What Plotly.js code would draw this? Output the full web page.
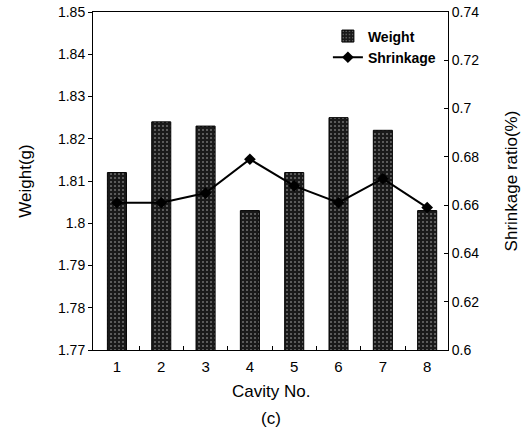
<!DOCTYPE html>
<html><head><meta charset="utf-8">
<script src="https://cdn.plot.ly/plotly-3.0.1.min.js"></script>
<style>body{margin:0;background:#fff}#c{width:531px;height:434px}</style>
</head><body><div id="c"></div>
<script>
var cavities = [1,2,3,4,5,6,7,8];
var weight = [1.812,1.824,1.823,1.803,1.812,1.825,1.822,1.803];
var shrinkage = [0.661,0.661,0.665,0.679,0.668,0.661,0.671,0.659];
var leftTicks = [1.77,1.78,1.79,1.8,1.81,1.82,1.83,1.84,1.85];
var leftTickText = ['1.77','1.78','1.79','1.8','1.81','1.82','1.83','1.84','1.85'];
var rightTicks = [0.6,0.62,0.64,0.66,0.68,0.7,0.72,0.74];
var rightTickText = ['0.6','0.62','0.64','0.66','0.68','0.7','0.72','0.74'];

var font = {family:'Liberation Sans, Arial, sans-serif', color:'#000'};
var traces = [
  {type:'bar', x:cavities, y:weight, name:'Weight', width:0.43,
   marker:{color:'#1a1a1a', line:{color:'#000', width:1},
     pattern:{shape:'.', fgcolor:'#707070', bgcolor:'#1a1a1a', size:4, solidity:0.2}}},
  {type:'scatter', mode:'lines+markers', x:cavities, y:shrinkage, name:'Shrinkage', yaxis:'y2',
   line:{color:'#000', width:2}, marker:{symbol:'diamond', size:9, color:'#000'}}
];
var layout = {
  width:531, height:434, margin:{l:93, r:83, t:12, b:84},
  paper_bgcolor:'#fff', plot_bgcolor:'#fff', showlegend:true,
  font:Object.assign({size:14}, font),
  xaxis:{range:[0.46,8.47], tickvals:cavities, ticks:'', showline:true, linecolor:'#000', linewidth:1,
    mirror:true, showgrid:false, zeroline:false, tickfont:{size:15}, ticklabelstandoff:3,
    minor:{tickvals:[1.5,2.5,3.5,4.5,5.5,6.5,7.5], ticks:'inside', ticklen:4, tickcolor:'#000', showgrid:false}},
  yaxis:{range:[1.77,1.85], tickvals:leftTicks, ticktext:leftTickText, ticks:'outside', ticklen:4,
    tickcolor:'#000', showline:true, linecolor:'#000', linewidth:1, showgrid:false, zeroline:false,
    tickfont:{size:14}, title:{text:'Weight(g)', font:{size:17}, standoff:22}},
  yaxis2:{range:[0.6,0.74], overlaying:'y', side:'right', tickvals:rightTicks, ticktext:rightTickText,
    ticks:'inside', ticklen:4, tickcolor:'#000', showline:true, linecolor:'#000', linewidth:1,
    showgrid:false, zeroline:false, tickfont:{size:14},
    title:{text:'Shrinkage ratio(%)', font:{size:17}, standoff:26}},
  legend:{x:0.98, y:0.975, xanchor:'right', yanchor:'top', bgcolor:'rgba(0,0,0,0)',
    font:{size:14, family:'Liberation Sans, Arial, sans-serif', weight:'bold'}, tracegroupgap:2, itemwidth:30},
  annotations:[
    {text:'Cavity No.', xref:'paper', yref:'paper', x:0.5, y:-0.124, showarrow:false,
     font:{size:17}, yanchor:'middle'},
    {text:'(c)', xref:'paper', yref:'paper', x:0.5, y:-0.204, showarrow:false,
     font:{size:17}, yanchor:'middle'}]
};
Plotly.newPlot('c', traces, layout, {displayModeBar:false, staticPlot:true});
</script></body></html>
